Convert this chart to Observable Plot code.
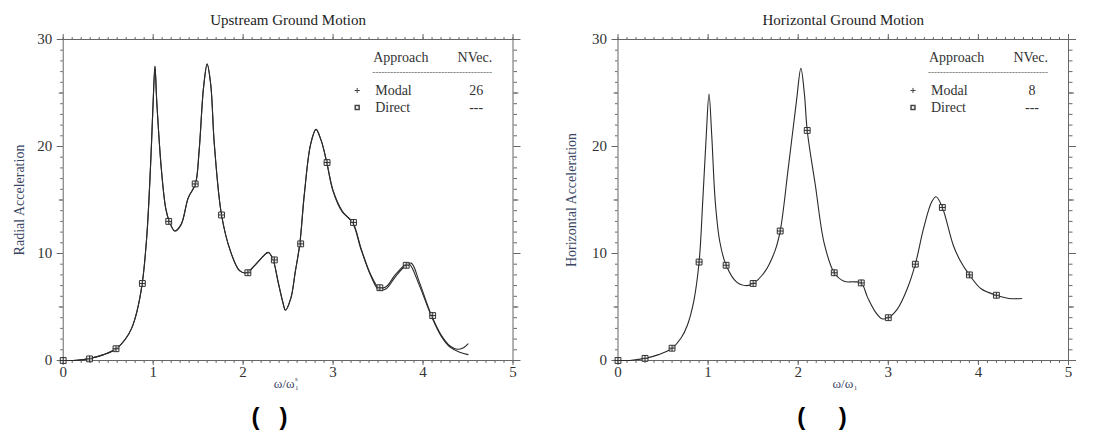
<!DOCTYPE html>
<html>
<head>
<meta charset="utf-8">
<script src="https://cdn.jsdelivr.net/npm/d3@7"></script>
<script src="https://cdn.jsdelivr.net/npm/@observablehq/plot@0.6"></script>
<style>
  body { margin: 0; background: #fff; }
  #wrap { display: flex; width: 1112px; height: 439px; }
  #wrap svg { display: block; }
</style>
</head>
<body>
<div id="wrap"></div>
<script>
// ---------- Data ----------
// Left panel: Upstream Ground Motion (radial acceleration)
const leftDirectX = [0, 0.15, 0.30, 0.45, 0.59, 0.70, 0.76, 0.82, 0.88, 0.93, 0.97, 1.00, 1.02, 1.04, 1.09, 1.14, 1.18, 1.24, 1.31, 1.39, 1.47, 1.51, 1.56, 1.60, 1.64, 1.68, 1.76, 1.86, 1.96, 2.04, 2.13, 2.23, 2.28, 2.33, 2.39, 2.44, 2.47, 2.53, 2.58, 2.63, 2.68, 2.75, 2.81, 2.87, 2.93, 3.00, 3.10, 3.22, 3.31, 3.42, 3.51, 3.59, 3.69, 3.81, 3.85, 3.96, 4.09, 4.20, 4.30, 4.40, 4.50];
const leftDirectY = [0, 0.02, 0.2, 0.55, 1.1, 2.1, 3.0, 4.6, 7.3, 11.7, 18, 24.2, 27.5, 24.2, 18, 14.2, 13.0, 12.1, 12.7, 15.2, 16.5, 19.5, 25.5, 27.7, 25.8, 20.2, 13.6, 10.2, 8.4, 8.2, 8.9, 9.8, 10.1, 9.5, 7.3, 5.5, 4.7, 5.8, 8.3, 10.9, 15.5, 20.2, 21.6, 20.5, 18.5, 15.8, 13.9, 12.9, 10.5, 8.0, 6.8, 6.9, 8.0, 9.0, 9.0, 7.0, 4.2, 2.3, 1.25, 0.8, 0.55];
const leftModalX = [0, 0.15, 0.30, 0.45, 0.59, 0.70, 0.76, 0.82, 0.88, 0.93, 0.97, 1.00, 1.02, 1.04, 1.09, 1.14, 1.18, 1.24, 1.31, 1.39, 1.47, 1.51, 1.56, 1.60, 1.64, 1.68, 1.76, 1.86, 1.96, 2.04, 2.13, 2.23, 2.28, 2.33, 2.39, 2.44, 2.47, 2.53, 2.58, 2.63, 2.68, 2.75, 2.81, 2.87, 2.93, 3.00, 3.10, 3.22, 3.31, 3.42, 3.51, 3.59, 3.69, 3.81, 3.87, 3.96, 4.09, 4.20, 4.30, 4.38, 4.45, 4.50];
const leftModalY = [0, 0.02, 0.2, 0.55, 1.1, 2.1, 3.0, 4.6, 7.3, 11.7, 18, 24.2, 27.5, 24.2, 18, 14.2, 13.0, 12.1, 12.7, 15.2, 16.5, 19.5, 25.5, 27.7, 25.8, 20.2, 13.6, 10.2, 8.4, 8.2, 8.9, 9.8, 10.1, 9.5, 7.3, 5.5, 4.7, 5.8, 8.3, 10.9, 15.5, 20.2, 21.6, 20.5, 18.5, 15.9, 14.0, 12.8, 10.4, 7.9, 6.6, 6.7, 7.8, 8.9, 9.1, 7.3, 4.3, 2.4, 1.35, 1.05, 1.2, 1.55];
const leftMarkX = [0, 0.293, 0.587, 0.88, 1.173, 1.467, 1.76, 2.053, 2.347, 2.64, 2.933, 3.227, 3.52, 3.813, 4.107];
const leftMarkY = [0, 0.15, 1.1, 7.2, 13.0, 16.5, 13.6, 8.2, 9.4, 10.9, 18.5, 12.9, 6.8, 8.9, 4.2];

// Right panel: Horizontal Ground Motion (horizontal acceleration)
const rightX = [0, 0.15, 0.30, 0.45, 0.60, 0.70, 0.77, 0.84, 0.90, 0.94, 0.98, 1.01, 1.04, 1.08, 1.13, 1.20, 1.32, 1.43, 1.50, 1.63, 1.74, 1.80, 1.89, 1.98, 2.03, 2.07, 2.10, 2.19, 2.29, 2.40, 2.51, 2.62, 2.70, 2.77, 2.86, 2.93, 3.00, 3.10, 3.21, 3.30, 3.39, 3.48, 3.53, 3.60, 3.72, 3.80, 3.90, 4.03, 4.20, 4.34, 4.48];
const rightY = [0, 0.03, 0.2, 0.55, 1.15, 2.1, 3.3, 5.5, 9.2, 14.8, 21.1, 24.9, 21.1, 14.8, 11.1, 8.9, 7.3, 7.0, 7.2, 8.3, 10.2, 12.1, 18, 24.2, 27.3, 24.8, 21.5, 16.4, 10.9, 8.2, 7.4, 7.35, 7.25, 5.9, 4.5, 3.9, 4.0, 4.8, 6.7, 9.0, 12.3, 14.8, 15.3, 14.3, 10.8, 9.3, 8.0, 6.7, 6.1, 5.8, 5.8];
const rightMarkX = [0, 0.3, 0.6, 0.9, 1.2, 1.5, 1.8, 2.1, 2.4, 2.7, 3.0, 3.3, 3.6, 3.9, 4.2];
const rightMarkY = [0, 0.2, 1.15, 9.2, 8.9, 7.2, 12.1, 21.5, 8.2, 7.25, 4.0, 9.0, 14.3, 8.0, 6.1];

// Text
const titles = ["Upstream Ground Motion", "Horizontal Ground Motion"];
const yLabels = ["Radial Acceleration", "Horizontal Acceleration"];
const legendHeader = ["Approach", "NVec."];
const legendNames = ["Modal", "Direct"];
const nvecLeft = ["26", "---"];
const nvecRight = ["8", "---"];
const xMajorTicks = [0, 1, 2, 3, 4, 5];
const yMajorTicks = [0, 10, 20, 30];

// ---------- Drawing ----------
const serif = "'Liberation Serif', 'Times New Roman', serif";
const ink = "#333";
const axisGray = "#666";
const labelInk = "#3b4763";
const zip = (xs, ys) => xs.map((x, i) => ({x, y: ys[i]}));

function panel(o) {
  const xMinor = d3.range(0, 50.5, 1).map(d => d / 10);
  const yMinor = d3.range(0, 31, 1);
  const yMid = [5, 15, 25];
  const blank = () => "";
  const L = o.legendDx;
  const t = (txt, opts) => Plot.text([txt], {fontFamily: serif, lineAnchor: "middle", ...opts});
  return Plot.plot({
    width: 556, height: 439,
    marginLeft: o.marginLeft, marginRight: o.marginRight, marginTop: 39, marginBottom: 79,
    x: {domain: [0, 5]},
    y: {domain: [0, 30]},
    style: {fontFamily: serif, fontSize: "15px", color: ink, background: "#fff"},
    marks: [
      Plot.frame({stroke: axisGray, strokeWidth: 1}),
      // bottom
      Plot.axisX(xMinor, {anchor: "bottom", tickSize: 3, tickFormat: blank, label: null, stroke: axisGray}),
      Plot.axisX(xMajorTicks, {anchor: "bottom", tickSize: 5, tickPadding: 1, label: null, stroke: axisGray, fontSize: 15, fontFamily: serif, fill: ink}),
      // top
      Plot.axisX(xMinor, {anchor: "top", tickSize: 3, tickFormat: blank, label: null, stroke: axisGray}),
      Plot.axisX(xMajorTicks, {anchor: "top", tickSize: 6, tickFormat: blank, label: null, stroke: axisGray}),
      // left
      Plot.axisY(yMinor, {anchor: "left", tickSize: 2.5, tickFormat: blank, label: null, stroke: axisGray}),
      Plot.axisY(yMid, {anchor: "left", tickSize: 4, tickFormat: blank, label: null, stroke: axisGray}),
      Plot.axisY(yMajorTicks, {anchor: "left", tickSize: 6, tickPadding: 5, label: null, stroke: axisGray, fontSize: 15, fontFamily: serif, fill: ink}),
      // right
      Plot.axisY(yMinor, {anchor: "right", tickSize: 3.5, tickFormat: blank, label: null, stroke: axisGray}),
      Plot.axisY(yMid, {anchor: "right", tickSize: 5, tickFormat: blank, label: null, stroke: axisGray}),
      Plot.axisY(yMajorTicks, {anchor: "right", tickSize: 7, tickFormat: blank, label: null, stroke: axisGray}),
      // curves
      ...o.curves.map(c => Plot.line(c, {x: "x", y: "y", curve: "catmull-rom", stroke: "#2a2a2a", strokeWidth: 1.1})),
      // markers (Direct squares + Modal pluses)
      Plot.dot(o.markers, {x: "x", y: "y", symbol: "square", r: 3.3, stroke: "#333", strokeWidth: 1, fill: "#eee", fillOpacity: 0.6}),
      Plot.dot(o.markers, {x: "x", y: "y", symbol: "plus", r: 2.2, stroke: "#333", strokeWidth: 1}),
      // title
      t(o.title, {frameAnchor: "top", dy: -19, fontSize: 15, fill: "#222"}),
      // y label
      t(o.ylabel, {frameAnchor: "left", dx: -o.ylabelOffset, rotate: -90, textAnchor: "middle", fontSize: 14, fill: labelInk}),
      // x label: ω/ω with indices
      t("ω/ω", {frameAnchor: "bottom", dx: o.xlabDx, dy: 23, textAnchor: "end", fontSize: 13, fill: labelInk}),
      t("1", {frameAnchor: "bottom", dx: o.xlabDx + 0.5, dy: 27, textAnchor: "start", fontSize: 7, fill: labelInk}),
      ...(o.xsup ? [t(o.xsup, {frameAnchor: "bottom", dx: o.xlabDx + 0.5, dy: 18, textAnchor: "start", fontSize: 7, fill: labelInk})] : []),
      // legend
      t(legendHeader[0], {frameAnchor: "top-left", dx: L, dy: 18, textAnchor: "start", fontSize: 14, fill: ink}),
      t(legendHeader[1], {frameAnchor: "top-left", dx: L + 119, dy: 18, textAnchor: "end", fontSize: 14, fill: ink}),
      t("-".repeat(40), {frameAnchor: "top-left", dx: L - 1, dy: 33, textAnchor: "start", fontSize: 9, fill: "#555"}),
      Plot.dot([0], {frameAnchor: "top-left", dx: L - 16, dy: 51, symbol: "plus", r: 1.8, stroke: "#444", strokeWidth: 1}),
      Plot.dot([0], {frameAnchor: "top-left", dx: L - 16, dy: 68, symbol: "square", r: 2.2, stroke: "#444", fill: "none"}),
      t(legendNames[0], {frameAnchor: "top-left", dx: L + 2, dy: 51, textAnchor: "start", fontSize: 14, fill: ink}),
      t(legendNames[1], {frameAnchor: "top-left", dx: L + 2, dy: 68, textAnchor: "start", fontSize: 14, fill: ink}),
      t(o.nvec[0], {frameAnchor: "top-left", dx: L + 103, dy: 51, textAnchor: "middle", fontSize: 14, fill: ink}),
      t(o.nvec[1], {frameAnchor: "top-left", dx: L + 103, dy: 68, textAnchor: "middle", fontSize: 14, fill: ink}),
      // panel caption
      t(o.caption, {frameAnchor: "bottom", dx: o.capDx, dy: 57, fontSize: 24, fontWeight: "bold", fill: "#000", fontFamily: "'Liberation Sans', Arial, sans-serif"})
    ]
  });
}

const wrap = document.getElementById("wrap");
wrap.append(panel({
  title: titles[0], ylabel: yLabels[0], ylabelOffset: 44, xsup: "s", xlabDx: 6.5,
  marginLeft: 62.7, marginRight: 43.5,
  curves: [zip(leftModalX, leftModalY), zip(leftDirectX, leftDirectY)],
  markers: zip(leftMarkX, leftMarkY),
  nvec: nvecLeft, legendDx: 310, capDx: -18.6,
  caption: "(\u00a0\u00a0\u00a0)"
}));
wrap.append(panel({
  title: titles[1], ylabel: yLabels[1], ylabelOffset: 46, xsup: null, xlabDx: 10,
  marginLeft: 61.5, marginRight: 44,
  curves: [zip(rightX, rightY)],
  markers: zip(rightMarkX, rightMarkY),
  nvec: nvecRight, legendDx: 311, capDx: -21.3,
  caption: "(\u00a0\u00a0\u00a0\u00a0\u00a0)"
}));
</script>
</body>
</html>
